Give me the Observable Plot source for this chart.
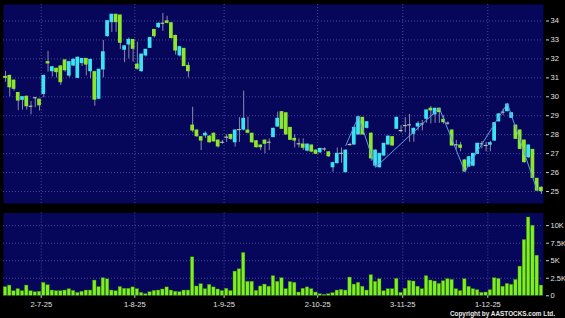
<!DOCTYPE html>
<html><head><meta charset="utf-8">
<script src="https://cdn.jsdelivr.net/npm/d3@7"></script>
<script src="https://cdn.jsdelivr.net/npm/@observablehq/plot@0.6"></script>
<style>
html,body{margin:0;padding:0;background:#000;}
#chart{position:relative;width:565px;height:318px;background:#000;overflow:hidden;font-family:"Liberation Sans",Arial,sans-serif;}
#chart svg{position:absolute;left:0;background:transparent;}
#copy{position:absolute;right:10px;top:309px;font-size:6.4px;font-weight:bold;color:#e8e8e8;white-space:nowrap;line-height:9px;}
</style></head><body><div id="chart"><div id="copy">Copyright by AASTOCKS.com Ltd.</div></div>
<script>
// Daily OHLC (index = trading day), volumes
const opens  = [31.05,31.1,30.85,30.2,29.84,30.0,29.5,29.95,29.85,30.15,31.83,31.35,31.48,31.6,31.92,31.12,31.65,31.0,31.78,32.0,31.35,31.3,29.9,31.44,33.2,33.94,34.33,34.29,32.48,32.76,33.0,31.7,31.35,32.18,32.58,33.53,33.67,33.88,33.98,33.88,33.21,32.18,32.53,31.63,
28.48,28.22,27.87,27.96,27.9,28.05,27.69,27.6,27.87,27.99,27.6,28.27,28.27,28.22,28.05,27.65,27.43,27.69,27.6,27.87,28.43,29.19,29.13,28.36,27.78,27.52,27.48,27.16,27.43,27.16,27.07,27.25,27.07,26.28,26.5,27.02,26.02,27.48,27.48,28.01,28.89,28.36,28.05,26.37,26.28,
26.9,27.48,27.87,28.31,28.22,28.48,28.52,28.05,28.43,28.57,28.84,29.37,29.07,29.37,28.79,28.61,28.22,27.47,27.43,26.64,26.32,26.37,26.99,27.52,27.43,27.47,27.69,28.71,29.19,29.24,28.89,28.48,28.22,27.69,26.81,27.2,25.67,25.2];
const highs  = [31.34,31.15,30.9,30.22,30.0,30.05,29.75,29.97,29.87,31.15,32.4,31.6,31.5,31.65,31.95,31.85,32.0,32.1,32.02,32.02,31.97,31.35,31.45,32.97,34.0,34.33,34.35,34.3,32.7,33.1,33.02,32.88,32.25,32.5,33.12,33.55,33.9,34.4,34.25,33.9,33.25,32.65,32.55,31.8,
29.45,28.25,27.9,28.15,27.95,28.1,27.72,27.7,28.0,28.02,28.25,28.9,30.3,28.92,28.08,27.7,27.45,27.72,27.78,28.35,29.19,29.22,29.15,28.38,28.0,27.78,27.78,27.5,27.45,27.2,27.28,27.3,27.1,26.55,27.3,27.3,27.2,27.55,28.4,28.98,28.92,28.7,28.1,27.2,27.0,
27.55,27.92,27.9,28.92,28.48,28.9,29.07,28.35,28.7,28.75,29.3,29.49,29.4,29.4,29.0,28.68,28.25,27.7,27.6,26.7,26.85,27.0,27.55,27.65,27.6,27.65,28.65,29.1,29.35,29.65,29.15,28.5,28.25,27.72,27.45,27.22,25.7,25.25];
const lows   = [30.77,30.0,30.3,29.27,29.3,29.3,29.05,29.42,29.25,29.95,31.3,31.05,31.0,30.6,31.3,31.0,31.6,30.95,31.6,31.1,30.95,29.5,29.85,31.0,33.15,33.4,33.4,32.5,31.8,32.0,31.83,31.4,31.3,32.1,32.55,33.1,33.6,33.45,33.85,33.05,32.2,32.1,31.6,31.0,
28.1,27.85,27.16,27.8,27.55,27.6,27.3,27.5,27.6,27.7,27.35,27.6,28.2,28.05,27.55,27.3,27.16,26.99,27.16,27.85,28.4,28.3,28.0,27.7,27.3,27.3,27.16,27.1,27.05,26.95,27.0,27.1,26.8,26.02,26.45,26.5,26.0,27.4,27.45,28.0,28.0,28.3,26.6,26.3,26.25,
26.85,27.45,27.4,28.3,28.1,28.1,27.6,27.6,28.2,28.2,28.6,28.57,28.6,28.6,28.55,28.5,27.4,27.2,27.1,26.02,26.28,26.3,26.95,27.25,27.1,27.1,27.65,28.65,29.0,29.2,28.85,27.75,27.2,26.5,26.75,25.7,25.0,24.84];
const closes = [31.0,30.5,30.42,29.8,29.98,29.5,29.5,29.95,29.55,31.1,31.76,31.56,31.3,30.77,31.4,31.83,31.95,32.06,32.0,31.7,31.95,29.85,31.43,32.35,33.99,34.33,33.94,32.85,32.66,33.0,32.53,31.48,32.23,32.48,33.1,33.2,33.85,33.88,33.9,33.1,32.44,32.62,31.62,31.35,
28.22,27.92,27.69,28.05,27.6,27.65,27.38,27.6,27.87,27.78,28.22,28.27,28.84,28.1,27.6,27.34,27.34,27.52,27.6,28.31,28.84,28.31,28.01,27.73,27.69,27.52,27.31,27.48,27.11,26.99,27.25,27.25,26.86,26.5,26.99,27.02,27.16,27.48,28.36,28.92,28.01,28.66,26.75,27.16,26.99,
27.52,27.9,27.43,28.89,28.22,28.48,28.52,28.31,28.57,28.57,29.28,29.28,29.37,29.19,28.66,28.61,27.43,27.47,27.31,26.06,26.81,26.99,27.52,27.52,27.43,27.55,28.61,29.07,29.19,29.59,29.13,27.78,27.25,26.55,27.43,25.72,25.05,25.02];
const volumes = [1220,1460,650,940,650,1460,650,510,580,1850,1500,750,650,650,750,930,700,420,580,750,750,2170,1240,2500,2350,750,650,1240,1000,1000,1200,940,420,230,510,700,750,900,1200,750,580,510,750,750,
5480,1330,1650,940,1560,1200,900,680,1000,680,3450,3780,6100,1990,1990,700,1330,1600,1300,2790,1990,2500,940,1950,1850,470,1000,1200,940,470,230,140,230,380,750,840,750,2600,1600,1850,1300,750,2930,1990,2350,
650,940,940,2410,420,1000,2130,2040,1300,940,2790,2180,2040,1700,2080,2370,2270,940,660,2370,1280,940,800,420,470,800,2500,2410,1300,1700,1560,2270,4160,7950,11160,9980,5720,1460];
// zigzag overlay
const zigIdx   = [80,83,87,102,108,118,125];
const zigPrice = [27.43,28.96,26.28,29.4,26.06,29.65,25.05];
// axis ticks
const dateTickIdx = [8,30,51,73,93,113];
const dateLabels  = ["2-7-25","1-8-25","1-9-25","2-10-25","3-11-25","1-12-25"];
const priceTicks  = [25,26,27,28,29,30,31,32,33,34];
const volTicks    = [0,2500,5000,7500,10000];
const volLabels   = ["0","2.5K","5K","7.5K","10K"];

const candles = opens.map((o,i)=>({i, o, h:highs[i], l:lows[i], c:closes[i], v:volumes[i]}));
const zig = zigIdx.map((x,k)=>({x, y:zigPrice[k]}));
const dTicks = dateTickIdx.map((x,k)=>({x:x+0.4, label:dateLabels[k]}));

const BG="#06065a", GRID="#4a4a9c", TXT="#e2e2e2";
const UP="#3ee2f2", DOWN="#8de62c", DOJI="#b4c4a6", WICK="#8a8aac", VOL="#7ef01e";
const xDomain=[-0.47,126.49];
const hw=0.44;

const price = Plot.plot({
  width:565, height:206, marginTop:4, marginBottom:3, marginLeft:3, marginRight:22,
  style:{background:"transparent", fontFamily:"Liberation Sans, Arial, sans-serif"},
  x:{domain:xDomain, axis:null},
  y:{domain:[24.37,34.87], axis:null},
  marks:[
    Plot.frame({fill:BG, stroke:null}),
    Plot.ruleY(priceTicks,{stroke:GRID, strokeDasharray:"1,2"}),
    Plot.ruleX(dTicks,{x:"x", stroke:GRID, strokeDasharray:"1,2"}),
    Plot.ruleX(candles,{x:"i", y1:"l", y2:"h", stroke:WICK, strokeWidth:1}),
    Plot.rect(candles.filter(d=>d.c!==d.o),{x1:d=>d.i-hw, x2:d=>d.i+hw, y1:"o", y2:"c", insetTop:-0.5, insetBottom:-0.5,
      fill:d=>d.c>d.o?UP:DOWN}),
    Plot.ruleY(candles.filter(d=>d.c===d.o),{x1:d=>d.i-hw, x2:d=>d.i+hw, y:"c", stroke:DOJI, strokeWidth:1.2}),
    Plot.line(zig,{x:"x", y:"y", stroke:"#5f9ee8", strokeWidth:1}),
    Plot.axisY(priceTicks,{anchor:"right", label:null, tickSize:3, tickPadding:2, dx:2, stroke:"#cfcfcf", fill:TXT, fontSize:7.5})
  ]
});
price.style.top="0px";

const vol = Plot.plot({
  width:565, height:114, marginTop:8.5, marginBottom:22.7, marginLeft:3, marginRight:22,
  style:{background:"transparent", fontFamily:"Liberation Sans, Arial, sans-serif"},
  x:{domain:xDomain, axis:null},
  y:{domain:[0,11800], axis:null},
  marks:[
    Plot.frame({fill:BG, stroke:null}),
    Plot.ruleY(volTicks.slice(1),{stroke:GRID, strokeDasharray:"1,2"}),
    Plot.ruleX(dTicks,{x:"x", stroke:GRID, strokeDasharray:"1,2"}),
    Plot.rect(candles,{x1:d=>d.i-0.4, x2:d=>d.i+0.4, y1:0, y2:"v", fill:VOL, stroke:"#3f8a12", strokeWidth:0.4}),
    Plot.axisY(volTicks,{anchor:"right", label:null, tickSize:3, tickPadding:2, dx:2, stroke:"#cfcfcf", fill:TXT, fontSize:7.5,
      tickFormat:d=>volLabels[volTicks.indexOf(d)]}),
    Plot.axisX(dTicks.map(d=>d.x),{anchor:"bottom", label:null, tickSize:2.5, tickPadding:3.5, stroke:"#cfcfcf", fill:TXT, fontSize:7.5,
      tickFormat:d=>dTicks.find(t=>t.x===d).label})
  ]
});
vol.style.top="204px";

const el=document.getElementById("chart");
el.insertBefore(vol, el.firstChild);
el.insertBefore(price, el.firstChild);
</script>
</body></html>
